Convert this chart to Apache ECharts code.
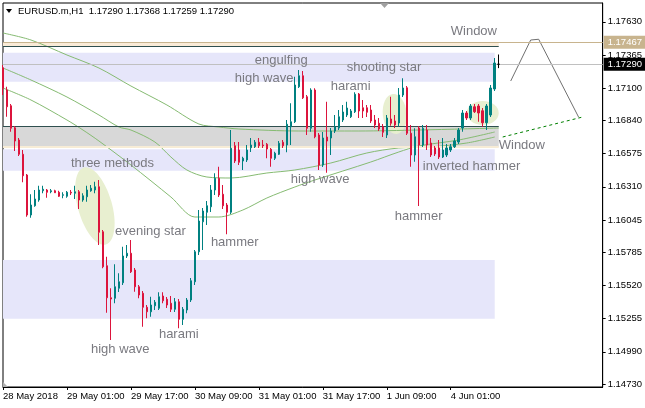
<!DOCTYPE html>
<html><head><meta charset="utf-8">
<script src="https://cdn.jsdelivr.net/npm/echarts@6/dist/echarts.min.js"></script>
<style>html,body{margin:0;padding:0;background:#fff}#c{width:645px;height:408px}</style>
</head><body><div id="c"></div>
<script>
// ---- data (EURUSD.m, H1) ----
const opens = [1.17262,1.17084,1.16958,1.16782,1.16684,1.16570,1.16404,1.16084,1.16158,1.16204,1.16278,1.16284,1.16270,1.16278,1.16266,1.16242,1.16234,1.16266,1.16258,1.16270,1.16204,1.16230,1.16278,1.16284,1.16310,1.15950,1.15678,1.15422,1.15418,1.15498,1.15542,1.15756,1.15778,1.15644,1.15510,1.15458,1.15346,1.15310,1.15358,1.15338,1.15436,1.15410,1.15378,1.15330,1.15390,1.15250,1.15324,1.15404,1.15550,1.15790,1.16030,1.16106,1.16150,1.16284,1.16378,1.16250,1.16164,1.16106,1.16638,1.16604,1.16516,1.16524,1.16622,1.16630,1.16666,1.16644,1.16650,1.16610,1.16538,1.16570,1.16666,1.16644,1.16790,1.16830,1.17110,1.17198,1.17030,1.16778,1.17084,1.16724,1.16484,1.16708,1.16700,1.16756,1.16780,1.16844,1.16884,1.16870,1.16910,1.17052,1.16942,1.16942,1.16924,1.16844,1.16818,1.16790,1.16724,1.16852,1.16836,1.16820,1.17044,1.17102,1.16738,1.16564,1.16780,1.16644,1.16764,1.16660,1.16620,1.16620,1.16548,1.16564,1.16604,1.16630,1.16668,1.16780,1.16900,1.16860,1.16950,1.16956,1.16918,1.16822,1.16884,1.17092,1.17290];
const closes = [1.17098,1.16950,1.16778,1.16676,1.16570,1.16398,1.16084,1.16164,1.16212,1.16284,1.16290,1.16266,1.16278,1.16262,1.16234,1.16246,1.16266,1.16260,1.16270,1.16204,1.16238,1.16284,1.16298,1.16310,1.15946,1.15670,1.15422,1.15412,1.15510,1.15550,1.15756,1.15778,1.15630,1.15510,1.15444,1.15346,1.15310,1.15364,1.15386,1.15430,1.15398,1.15364,1.15330,1.15390,1.15250,1.15330,1.15404,1.15558,1.15790,1.16036,1.16116,1.16158,1.16284,1.16378,1.16244,1.16158,1.16106,1.16618,1.16516,1.16506,1.16538,1.16604,1.16644,1.16666,1.16638,1.16638,1.16612,1.16538,1.16578,1.16658,1.16638,1.16810,1.16830,1.17124,1.17198,1.17022,1.16778,1.17084,1.16710,1.16484,1.16700,1.16676,1.16756,1.16790,1.16870,1.16908,1.16940,1.16916,1.17050,1.16916,1.16916,1.16906,1.16836,1.16804,1.16772,1.16746,1.16860,1.16818,1.16804,1.17044,1.17100,1.16738,1.16564,1.16710,1.16644,1.16778,1.16644,1.16564,1.16572,1.16548,1.16604,1.16620,1.16630,1.16676,1.16764,1.16900,1.16860,1.16956,1.16910,1.16900,1.16822,1.16956,1.17100,1.17300,1.17290];
const lows = [1.17044,1.16870,1.16750,1.16596,1.16556,1.16346,1.16070,1.16062,1.16150,1.16190,1.16258,1.16222,1.16258,1.16260,1.16228,1.16218,1.16222,1.16244,1.16212,1.16132,1.16190,1.16190,1.16270,1.16258,1.15844,1.15658,1.15302,1.15084,1.15378,1.15468,1.15524,1.15740,1.15620,1.15470,1.15418,1.15190,1.15258,1.15270,1.15324,1.15324,1.15378,1.15340,1.15308,1.15308,1.15178,1.15204,1.15298,1.15388,1.15524,1.15764,1.15804,1.16004,1.16108,1.16244,1.16228,1.16132,1.15930,1.16092,1.16500,1.16484,1.16444,1.16508,1.16588,1.16620,1.16620,1.16620,1.16538,1.16470,1.16524,1.16564,1.16620,1.16586,1.16644,1.16820,1.17100,1.17012,1.16724,1.16750,1.16698,1.16444,1.16468,1.16422,1.16564,1.16740,1.16764,1.16828,1.16868,1.16860,1.16900,1.16860,1.16860,1.16868,1.16820,1.16780,1.16756,1.16708,1.16700,1.16798,1.16780,1.16790,1.17028,1.16724,1.16470,1.16510,1.16156,1.16628,1.16604,1.16548,1.16556,1.16532,1.16540,1.16548,1.16588,1.16620,1.16652,1.16750,1.16844,1.16844,1.16900,1.16830,1.16790,1.16764,1.16868,1.17076,1.17259];
const highs = [1.17284,1.17110,1.16972,1.16796,1.16700,1.16604,1.16412,1.16250,1.16284,1.16318,1.16318,1.16292,1.16292,1.16286,1.16278,1.16266,1.16276,1.16284,1.16318,1.16284,1.16258,1.16318,1.16324,1.16350,1.16364,1.15964,1.15750,1.15498,1.15690,1.15618,1.15830,1.15844,1.15884,1.15660,1.15524,1.15476,1.15364,1.15430,1.15404,1.15466,1.15466,1.15428,1.15436,1.15420,1.15412,1.15348,1.15420,1.15580,1.15804,1.16124,1.16140,1.16196,1.16324,1.16418,1.16470,1.16324,1.16180,1.16764,1.16668,1.16668,1.16550,1.16644,1.16700,1.16684,1.16700,1.16684,1.16660,1.16620,1.16590,1.16676,1.16684,1.16844,1.16978,1.17190,1.17244,1.17236,1.17044,1.17098,1.17098,1.16740,1.16748,1.16990,1.16780,1.16884,1.16924,1.16964,1.16990,1.16932,1.17066,1.17060,1.17004,1.16964,1.16964,1.16884,1.16860,1.16812,1.16884,1.17030,1.16884,1.17100,1.17178,1.17116,1.16804,1.16778,1.16796,1.16804,1.16804,1.16700,1.16636,1.16684,1.16700,1.16652,1.16652,1.16700,1.16780,1.16924,1.16916,1.16972,1.16972,1.16972,1.16940,1.16972,1.17124,1.17340,1.17368];

// moving averages: [bar index, price]
const maSlow = [[0,1.17540],[7,1.17484],[16,1.17364],[24,1.17260],[32,1.17116],[41,1.16964],[49,1.16812],[54,1.16788],[59,1.16772],[74,1.16756],[89,1.16756],[104,1.16764],[124,1.16780]];
const maMid = [[0,1.17260],[7,1.17164],[16,1.17028],[24,1.16884],[29,1.16788],[32,1.16764],[38,1.16668],[42,1.16548],[46,1.16444],[51,1.16388],[57,1.16380],[66,1.16420],[73,1.16444],[82,1.16500],[91,1.16580],[99,1.16620],[107,1.16628],[116,1.16660],[123,1.16708]];
const maFast = [[0,1.17100],[7,1.17004],[16,1.16844],[20,1.16764],[24,1.16676],[32,1.16484],[42,1.16228],[48,1.16068],[54,1.16068],[60,1.16124],[66,1.16220],[73,1.16308],[78,1.16364],[92,1.16508],[99,1.16588],[104,1.16636],[114,1.16684],[123,1.16748]];

// projection lines
const projPath = [[127,1.17156],[132,1.17484],[134,1.17490],[144,1.16866]];
const projDash = [[125,1.16708],[145,1.16868]];

// zones [fromBar, toBar, lowPrice, highPrice]
const lavenderZones = [[0,123,1.17150,1.17382],[0,123,1.16438,1.16610],[0,123,1.15254,1.15724]];
const windowZone = [0,124,1.17432,1.17467];
const grayZone = [0,124,1.16628,1.16794];
const resistLevel = 1.17467;
const bidLevel = 1.17290;

// tick labels
const xTickLabels = ['28 May 2018','29 May 01:00','29 May 17:00','30 May 09:00','31 May 01:00','31 May 17:00','1 Jun 09:00','4 Jun 01:00'];
const xTickEvery = 16;
const yTickValues = [1.17630,1.17365,1.17100,1.16840,1.16575,1.16310,1.16045,1.15785,1.15520,1.15255,1.14990,1.14730];

// annotations
const noteTexts = ['Window','engulfing','high wave','shooting star','harami','three methods','evening star','hammer','high wave','hammer','inverted hammer','Window','high wave','harami'];
const noteBars = [112.25,62.75,58,85.75,82.25,16.75,27.5,52.25,72,98.25,105.25,124.25,22,39.25];
const notePrices = [1.17556,1.17324,1.17176,1.17268,1.17116,1.16500,1.15956,1.15864,1.16372,1.16076,1.16476,1.16644,1.15012,1.15132];
const ellipseBars = [22.75,98,119.5];
const ellipsePrices = [1.16156,1.16892,1.16900];

const NCAT = 151;
const cats = Array.from({length:NCAT},(_,i)=>String(i));
const fmt = v => v.toFixed(5);
const ohlc = opens.map((o,i)=>[o,closes[i],lows[i],highs[i]]);
const FONT = '"Liberation Sans", Arial, sans-serif';
const MA_COLOR = '#86bb72';

const chart = echarts.init(document.getElementById('c'));
const tickShow = (i)=> i % xTickEvery === 0 && i/xTickEvery < xTickLabels.length;
const rect = (z,color)=>[{xAxis:z[0],yAxis:z[3],itemStyle:{color}},{xAxis:z[1],yAxis:z[2]}];

chart.setOption({
  animation:false,
  backgroundColor:'#fff',
  grid:{left:3,right:42,top:3,bottom:21,show:true,borderColor:'#000',borderWidth:1,backgroundColor:'#fff'},
  xAxis:{type:'category',data:cats,boundaryGap:false,
    axisLine:{lineStyle:{color:'#000',width:1}},
    axisTick:{show:true,interval:tickShow,length:3,lineStyle:{color:'#000'}},
    axisLabel:{interval:tickShow,formatter:(v,i)=>xTickLabels[i/xTickEvery]||'',align:'left',margin:4,fontSize:9.5,color:'#000',fontFamily:FONT,hideOverlap:false},
    splitLine:{show:false}},
  yAxis:{type:'value',position:'right',min:1.14708,max:1.17780,scale:true,
    axisLine:{show:true,lineStyle:{color:'#000'}},
    axisTick:{show:true,customValues:yTickValues,length:3,lineStyle:{color:'#000'}},
    axisLabel:{customValues:yTickValues,formatter:v=>fmt(v),fontSize:9.5,color:'#000',margin:5,fontFamily:FONT},
    splitLine:{show:false}},
  series:[
    {type:'line',data:[],z:0,silent:true,
      markArea:{silent:true,data:[
        rect(windowZone,'#faebd7'),
        ...lavenderZones.map(z=>rect(z,'#e6e6fa')),
        rect(grayZone,'#d8d8d8')
      ]},
      markLine:{silent:true,symbol:'none',precision:5,data:[
        [{coord:[windowZone[0],windowZone[2]],lineStyle:{color:'#2f4f4f',type:'solid',width:1}},{coord:[windowZone[1],windowZone[2]]}],
        [{coord:[grayZone[0],grayZone[3]],lineStyle:{color:'#2f4f4f',type:'solid',width:1}},{coord:[grayZone[1],grayZone[3]]}],
        [{coord:[grayZone[0],grayZone[2]],lineStyle:{color:'#f7ecd6',type:'solid',width:2}},{coord:[grayZone[1],grayZone[2]]}]
      ],label:{show:false}}
    },
    {type:'line',data:maSlow,z:3,symbol:'none',smooth:0.3,silent:true,lineStyle:{color:MA_COLOR,width:1}},
    {type:'line',data:maMid,z:3,symbol:'none',smooth:0.3,silent:true,lineStyle:{color:MA_COLOR,width:1}},
    {type:'line',data:maFast,z:3,symbol:'none',smooth:0.3,silent:true,lineStyle:{color:MA_COLOR,width:1}},
    {type:'line',data:projPath,z:4,symbol:'none',silent:true,lineStyle:{color:'#707070',width:1}},
    {type:'line',data:projDash,z:4,symbol:'none',silent:true,lineStyle:{color:'#008000',width:1,type:[3,3]}},
    {type:'candlestick',data:ohlc,z:5,barWidth:2,silent:true,
      itemStyle:{color:'#008080',color0:'#dc143c',borderColor:'#008080',borderColor0:'#dc143c',borderColorDoji:'#000',borderWidth:1}},
    {type:'line',data:[],z:6,silent:true,
      markLine:{silent:true,symbol:'none',precision:5,data:[
        {yAxis:resistLevel,lineStyle:{color:'#c8b48e',type:'solid',width:1},label:{backgroundColor:'#c8b48e'}},
        {yAxis:bidLevel,lineStyle:{color:'#c0c0c0',type:'solid',width:1},label:{backgroundColor:'#000'}}
      ],label:{show:true,position:'end',distance:1,formatter:p=>fmt(p.value),color:'#fff',fontSize:9.5,fontFamily:FONT,padding:[2,6,1,4]}}
    }
  ]
});

// annotations placed from data coordinates
const g = [];
const ellR = [[17,40,0.28],[12,20,0.1],[16,12,0]];
ellipseBars.forEach((b,k)=>{
  const p = chart.convertToPixel({gridIndex:0},[b,ellipsePrices[k]]);
  g.push({type:'ellipse',shape:{cx:0,cy:0,rx:ellR[k][0],ry:ellR[k][1]},x:p[0],y:p[1],rotation:ellR[k][2],style:{fill:'#e8efd0'},z:1,silent:true});
});
noteTexts.forEach((t,k)=>{
  const p = chart.convertToPixel({gridIndex:0},[noteBars[k],notePrices[k]]);
  g.push({type:'text',x:p[0],y:p[1],style:{text:t,fill:'#7a7a80',font:'13px '+FONT,verticalAlign:'middle',align:'left'},z:100,silent:true});
});
const last = ohlc.length-1;
g.push({type:'polygon',shape:{points:[[6,9],[12,9],[9,13]]},style:{fill:'#000'},z:100});
g.push({type:'text',x:18,y:11,style:{text:'EURUSD.m,H1  '+[opens[last],highs[last],lows[last],closes[last]].map(fmt).join(' '),fill:'#000',font:'9.5px '+FONT,verticalAlign:'middle'},z:100});
g.push({type:'polygon',shape:{points:[[380,3],[389,3],[384.5,8]]},style:{fill:'#a0a0a0'},z:100});
g.push({type:'polygon',shape:{points:[[3,382],[3,387],[8,387]]},style:{fill:'#b0b0b0'},z:100});
chart.setOption({graphic:g});
</script></body></html>
